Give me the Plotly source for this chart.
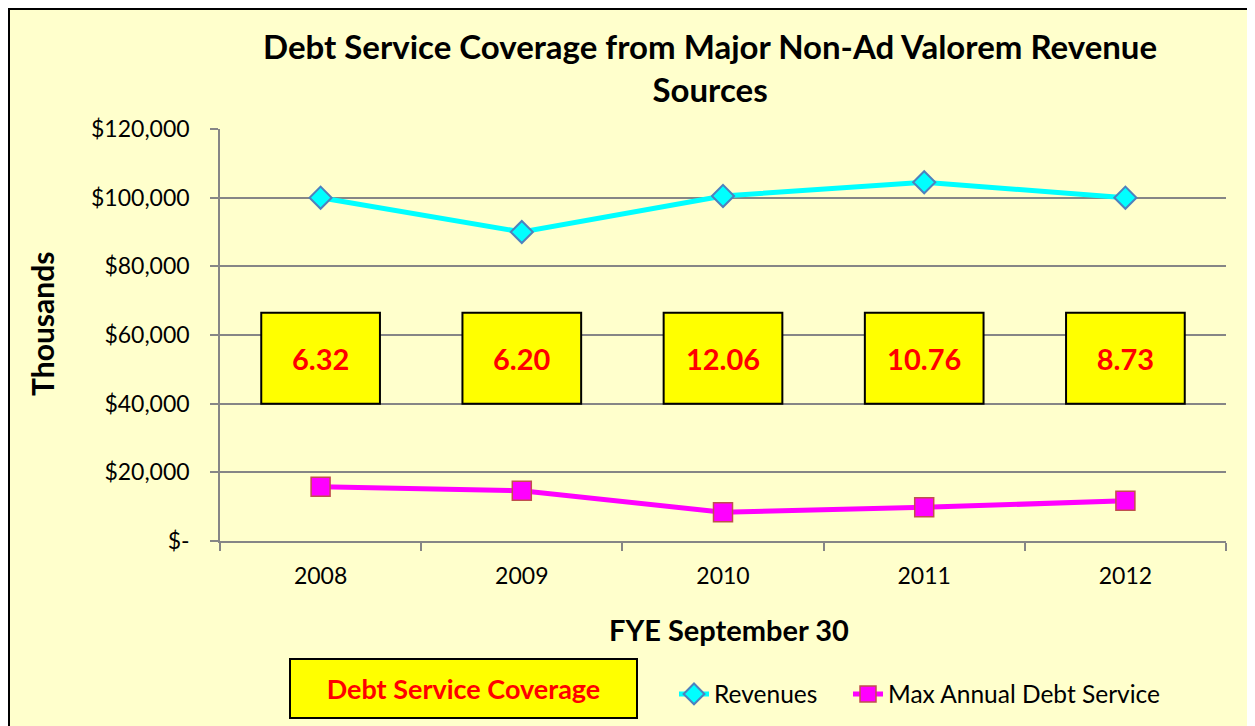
import plotly.graph_objects as go

years = ["2008", "2009", "2010", "2011", "2012"]
revenues = [100000, 90000, 100500, 104500, 100000]
max_debt_service = [15830, 14600, 8400, 9800, 11700]
coverage_labels = ["6.32", "6.20", "12.06", "10.76", "8.73"]
box_base = [40000, 40000, 40000, 40000, 40000]
box_height = [26450, 26450, 26450, 26450, 26450]

y_tickvals = [0, 20000, 40000, 60000, 80000, 100000, 120000]
y_ticktext = ["$-", "$20,000", "$40,000", "$60,000", "$80,000", "$100,000", "$120,000"]

chart_title = "Debt Service Coverage from Major Non-Ad Valorem Revenue<br>Sources"

FONT = "Lato"
BG = "#FFFFCC"

fig = go.Figure()

fig.add_trace(go.Bar(
    x=years, y=box_height, base=box_base, width=0.59,
    marker=dict(color="#FFFF00", line=dict(color="black", width=2)),
    text=coverage_labels, textposition="inside", insidetextanchor="middle",
    textfont=dict(family=FONT, size=29, color="#FF0000", weight="bold"),
    showlegend=False, hoverinfo="skip",
))

fig.add_trace(go.Scatter(
    x=years, y=revenues, mode="lines+markers", name="Revenues",
    line=dict(color="#00FFFF", width=5),
    marker=dict(symbol="diamond", size=17, color="#00FFFF",
                line=dict(color="#4F81BD", width=2)),
    legend="legend",
))

fig.add_trace(go.Scatter(
    x=years, y=max_debt_service, mode="lines+markers", name="Max Annual Debt Service",
    line=dict(color="#FF00FF", width=5),
    marker=dict(symbol="square", size=19, color="#FF00FF",
                line=dict(color="#C0504D", width=1.5)),
    legend="legend2",
))

# page body adds an 8px offset; plot area targeted at screen x 220-1226, y 129-541
OFF = 8
W, H = 1255, 726
L, R, T, B = 220 - OFF, W - 1226 + OFF, 129 - OFF, H - 541 + OFF
pw = W - L - R
ph = H - T - B

def px(x):
    return (x - 220) / pw

def py(y):
    return (541 - y) / ph

legend_common = dict(
    orientation="h", y=py(694), xanchor="left", yanchor="middle",
    font=dict(family=FONT, size=24.5), bgcolor="rgba(0,0,0,0)",
    itemwidth=30,
)

fig.update_layout(
    width=W, height=H,
    margin=dict(l=L, r=R, t=T, b=B),
    paper_bgcolor=BG, plot_bgcolor=BG,
    font=dict(family=FONT, size=23, color="black"),
    xaxis=dict(
        type="category", tickson="boundaries", ticks="outside", ticklen=8,
        tickcolor="#868686", tickwidth=1.5,
        showline=True, linecolor="#868686", linewidth=1.5,
        showgrid=False, tickfont=dict(family=FONT, size=23),
        ticklabelstandoff=14,
        range=[-0.5, 4.5],
    ),
    yaxis=dict(
        range=[0, 120000], tickvals=y_tickvals, ticktext=y_ticktext,
        ticks="outside", ticklen=8, tickcolor="#868686", tickwidth=1.5,
        showline=True, linecolor="#868686", linewidth=1.5,
        showgrid=True, gridcolor="#868686", gridwidth=1.5,
        zeroline=False, tickfont=dict(family=FONT, size=23),
        ticklabelstandoff=16,
    ),
    legend=dict(x=px(674), **legend_common),
    legend2=dict(x=px(848), **legend_common),
    showlegend=True,
)

fig.add_annotation(
    text="<b>" + chart_title + "</b>",
    xref="paper", yref="paper", x=px(710), y=py(67),
    showarrow=False, font=dict(family=FONT, size=33, color="black"),
    xanchor="center", yanchor="middle",
)
fig.add_annotation(
    text="<b>Thousands</b>", textangle=-90,
    xref="paper", yref="paper", x=px(42), y=py(324),
    showarrow=False, font=dict(family=FONT, size=30, color="black"),
    xanchor="center", yanchor="middle",
)
fig.add_annotation(
    text="<b>FYE September 30</b>",
    xref="paper", yref="paper", x=px(729), y=py(629),
    showarrow=False, font=dict(family=FONT, size=29, color="black"),
    xanchor="center", yanchor="middle",
)
fig.add_annotation(
    text="<b>Debt Service Coverage</b>",
    xref="paper", yref="paper", x=px(463), y=py(688),
    showarrow=False, font=dict(family=FONT, size=27, color="#FF0000"),
    xanchor="center", yanchor="middle",
    bgcolor="#FFFF00", bordercolor="black", borderwidth=2,
    width=343, height=55,
)
fig.add_shape(
    type="rect", xref="paper", yref="paper",
    x0=px(9), y0=py(9), x1=px(1300), y1=py(800),
    line=dict(color="black", width=2), fillcolor="rgba(0,0,0,0)", layer="below",
)

fig.write_html("out.html")
